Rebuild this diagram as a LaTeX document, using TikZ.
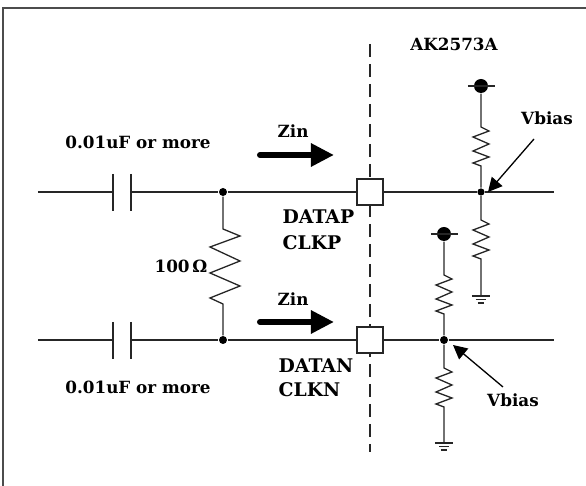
\documentclass[tikz,border=0pt]{standalone}
\usepackage{fontspec}
\setmainfont{DejaVu Serif}
\usetikzlibrary{arrows.meta}
\begin{document}
\begin{tikzpicture}[x=0.5pt, y=-0.5pt, line width=0.65pt, color=black!85,
  lbl/.style={inner sep=0pt, text=black, font=\fontsize{8.4}{10}\selectfont\bfseries},
  pinlbl/.style={lbl, anchor=west, font=\fontsize{9.4}{10}\selectfont\bfseries},
  dot/.style={circle, fill=black, inner sep=0pt, minimum size=4pt},
  rail/.style={circle, fill=black, inner sep=0pt, minimum size=7pt},
  pad/.style={draw, fill=white, inner sep=0pt, minimum size=13pt, line width=0.8pt},
  zinarrow/.style={line width=3pt, black, line cap=round, -{Triangle[length=11.5pt, width=11pt]}},
  biasarrow/.style={black, -{Triangle[length=7pt, width=7pt]}}]
\useasboundingbox (0,0) rectangle (586,486);

\draw [line width=1pt, black!70] (3,486) -- (3,8) -- (586,8);

\path (370,44) coordinate (cuttop);
\path (370,452) coordinate (cutbot);
\draw [dashed, dash pattern=on 6.5pt off 3.5pt] (cuttop) -- (cutbot);

% upper line
\path (38,192) coordinate (inp) (113,192) coordinate (capa) (131,192) coordinate (capb) (554,192) coordinate (outp);
\node [dot] (jp) at (223,192) {};
\node [pad] (padp) at (370,192) {};
\node [dot, minimum size=3.6pt] (bp) at (481,192) {};
\draw (inp) -- (capa);
\draw (capb) -- (jp) -- (padp) -- (bp) -- (outp);
\draw (capa) ++(0,-18) -- ++(0,37);
\draw (capb) ++(0,-18) -- ++(0,37);

% lower line
\path (38,340) coordinate (inn) (113,340) coordinate (cana) (131,340) coordinate (canb) (554,340) coordinate (outn);
\node [dot] (jn) at (223,340) {};
\node [pad] (padn) at (370,340) {};
\node [dot] (bn) at (444,340) {};
\draw (inn) -- (cana);
\draw (canb) -- (jn) -- (padn) -- (bn) -- (outn);
\draw (cana) ++(0,-18) -- ++(0,37);
\draw (canb) ++(0,-18) -- ++(0,37);

% termination
\draw (jp) -- ++(0,37) -- ++(17,7) -- ++(-30,11) -- ++(30,14) -- ++(-30,12) -- ++(30,13) -- ++(-30,12) -- ++(13,6) -- (jn);

% upper bias
\node [rail] (vp) at (481,86) {};
\draw (468,86) coordinate (vpa) -- (495,86) coordinate (vpb);
\draw (vp) -- ++(0,41) -- ++(8,4) -- ++(-16,6) -- ++(16,7) -- ++(-16,7) -- ++(16,6) -- ++(-16,6) -- ++(8,3) -- (bp);
\path (481,296) coordinate (gp);
\draw (bp) -- ++(0,28) -- ++(8,4) -- ++(-16,6) -- ++(16,7) -- ++(-16,7) -- ++(16,6) -- ++(-16,6) -- ++(8,3) -- (gp);
\draw (gp) ++(-9,0) -- ++(18,0) ++(-14,3.5) -- ++(10,0) ++(-8,3.5) -- ++(6,0);

% lower bias
\node [rail] (vn) at (444,234) {};
\draw (431,234) coordinate (vna) -- (458,234) coordinate (vnb);
\draw (vn) -- ++(0,41) -- ++(8,4) -- ++(-16,6) -- ++(16,7) -- ++(-16,7) -- ++(16,6) -- ++(-16,6) -- ++(8,3) -- (bn);
\path (444,443) coordinate (gn);
\draw (bn) -- ++(0,28) -- ++(8,4) -- ++(-16,6) -- ++(16,7) -- ++(-16,7) -- ++(16,6) -- ++(-16,6) -- ++(8,3) -- (gn);
\draw (gn) ++(-9,0) -- ++(18,0) ++(-14,3.5) -- ++(10,0) ++(-8,3.5) -- ++(6,0);

% zin
\path (260,155) coordinate (zpa) (334,155) coordinate (zpb);
\path (260,322) coordinate (zna) (334,322) coordinate (znb);
\draw [zinarrow] (zpa) -- (zpb);
\draw [zinarrow] (zna) -- (znb);

% labels
\node [lbl] (cpl) at (138,142) {0.01uF or more};
\node [lbl] (cnl) at (138,387) {0.01uF or more};
\node [lbl, anchor=west] (zpl) at (277,131) {Zin};
\node [lbl, anchor=west] (znl) at (277,299) {Zin};
\node [lbl] (chip) at (454,44) {AK2573A};
\node [pinlbl] (dpl) at (282,217) {DATAP};
\node [pinlbl] (kpl) at (282,243) {CLKP};
\node [pinlbl] (dnl) at (278,366) {DATAN};
\node [pinlbl] (knl) at (278,390) {CLKN};
\node [lbl] (rl) at (181,266) {100\,Ω};
\node [lbl] (vpl) at (547,118) {Vbias};
\node [lbl] (vnl) at (513,400) {Vbias};

\path (534,139) coordinate (bpa) (488,192) coordinate (bpb);
\path (503,387) coordinate (bna) (453,345) coordinate (bnb);
\draw [biasarrow] (bpa) -- (bpb);
\draw [biasarrow] (bna) -- (bnb);
\end{tikzpicture}
\end{document}
